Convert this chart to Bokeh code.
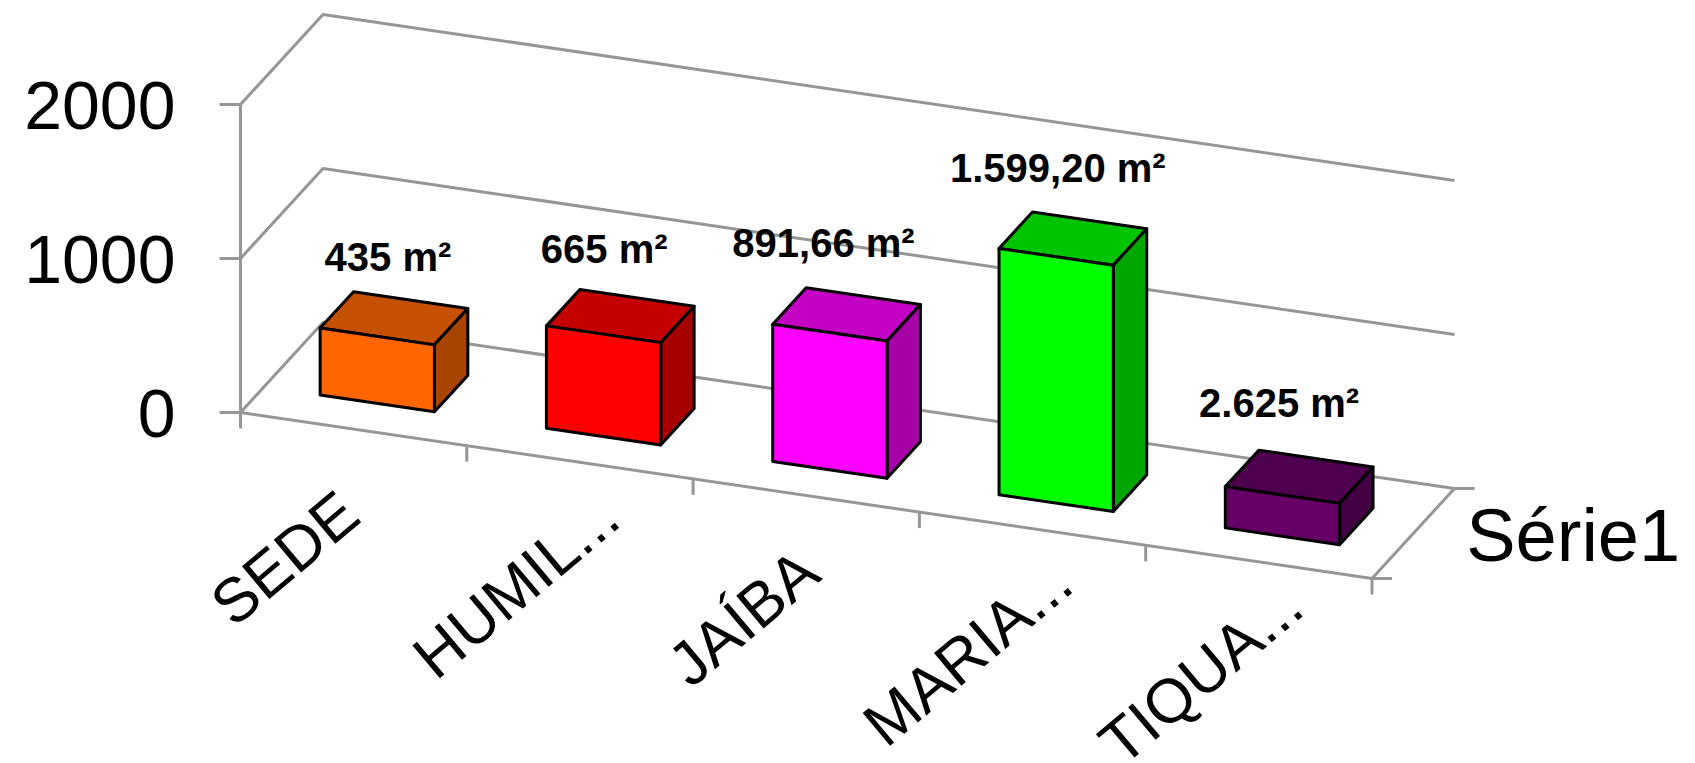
from bokeh.plotting import figure
from bokeh.models import Range1d
from bokeh.core.properties import value
from bokeh.embed import file_html
from bokeh.resources import INLINE
import math

categories = ["SEDE", "HUMIL...", "JAÍBA", "MARIA...", "TIQUA..."]
areas = [435, 665, 891.66, 1599.2, 268]
point_labels = ["435 m²", "665 m²", "891,66 m²", "1.599,20 m²", "2.625 m²"]
value_ticks = [0, 1000, 2000]
tick_labels = ["0", "1000", "2000"]
series_name = "Série1"
front_colors = ["#FF6600", "#FF0000", "#FF00FF", "#00FF00", "#660066"]
top_colors = ["#C45000", "#C40000", "#C400C4", "#00C400", "#4E004E"]
side_colors = ["#A84400", "#A60000", "#A600A6", "#00A600", "#430043"]

# oblique projection of (category position, depth, value) onto the page
O_X, O_Y = 240.0, 412.0
CAT_DX, CAT_DY = 226.3, 33.2
DEPTH_DX, DEPTH_DY = 82.5, -90.0
PX_PER_UNIT = 0.154
N = len(categories)
AXIS = "#969696"
FONT = value("Liberation Sans")


def proj(u, d, v):
    return (O_X + CAT_DX * u + DEPTH_DX * d,
            O_Y + CAT_DY * u + DEPTH_DY * d - PX_PER_UNIT * v)


W, H = 1695, 763
p = figure(width=W, height=H, output_backend="svg", toolbar_location=None,
           x_range=Range1d(0, W), y_range=Range1d(H, 0),
           min_border=0, outline_line_color=None, background_fill_color="white",
           border_fill_color="white")
p.axis.visible = False
p.grid.visible = False

# walls / gridlines
xs, ys = [], []
for v in value_ticks:
    pts = [proj(0, 0, v), proj(0, 1, v), proj(N, 1, v)]
    xs.append([a for a, _ in pts])
    ys.append([b for _, b in pts])
    tx, ty = proj(0, 0, v)
    xs.append([tx - 21, tx])
    ys.append([ty, ty])
pts = [proj(0, 0, value_ticks[0]), proj(0, 0, value_ticks[-1])]
xs.append([a for a, _ in pts]); ys.append([b for _, b in pts])
pts = [proj(0, 0, 0), proj(N, 0, 0), proj(N, 1, 0)]
xs.append([a for a, _ in pts]); ys.append([b for _, b in pts])
for u in range(N + 1):
    tx, ty = proj(u, 0, 0)
    xs.append([tx, tx]); ys.append([ty, ty + 16])
for d in (0, 1):
    tx, ty = proj(N, d, 0)
    xs.append([tx, tx + 20]); ys.append([ty, ty])
p.multi_line(xs, ys, line_color=AXIS, line_width=3)

# bars
U0, U1, D0, D1 = 0.248, 0.753, 0.285, 0.69
for i, val in enumerate(areas):
    a, b = i + U0, i + U1
    faces = [
        ([(a, D0, val), (b, D0, val), (b, D1, val), (a, D1, val)], top_colors[i]),
        ([(b, D0, 0), (b, D1, 0), (b, D1, val), (b, D0, val)], side_colors[i]),
        ([(a, D0, 0), (b, D0, 0), (b, D0, val), (a, D0, val)], front_colors[i]),
    ]
    for corners, color in faces:
        c = [proj(*q) for q in corners]
        p.patch([q[0] for q in c], [q[1] for q in c], fill_color=color,
                line_color="black", line_width=3, line_join="round")

# value tick labels
lx = [proj(0, 0, v)[0] - 65 for v in value_ticks]
ly = [proj(0, 0, v)[1] + 1 for v in value_ticks]
p.text(lx, ly, text=tick_labels, text_font=FONT, text_font_size="68px",
       text_align="right", text_baseline="middle", text_color="black")

# category labels
cat_nudge_x = [-69, -64, -63, -65, -58]
cat_nudge_y = [129, 124, 122, 124, 112]
cx = [proj(i + 0.5, 0, 0)[0] + cat_nudge_x[i] for i in range(N)]
cy = [proj(i + 0.5, 0, 0)[1] + cat_nudge_y[i] for i in range(N)]
p.text(cx, cy, text=categories, text_font=FONT, text_font_size="62px",
       text_align="center", text_baseline="middle", angle=math.radians(40), text_color="black")

# point labels
nudge_x = [-7, -17, -24, -16, -21]
nudge_y = [-60, -66, -70, -69, -73]
dx = [proj(i + 0.5, 0.5, areas[i])[0] + nudge_x[i] for i in range(N)]
dy = [proj(i + 0.5, 0.5, areas[i])[1] + nudge_y[i] for i in range(N)]
p.text(dx, dy, text=point_labels, text_font=FONT, text_font_style="bold",
       text_font_size="40px", text_align="center", text_baseline="middle", text_color="black")

# series label
sx, sy = proj(N, 0.5, 0)
p.text([sx + 53], [sy + 2], text=[series_name], text_font=FONT, text_font_size="74px",
       text_align="left", text_baseline="middle", text_color="black")

open("out.html", "w").write(file_html(p, INLINE))
